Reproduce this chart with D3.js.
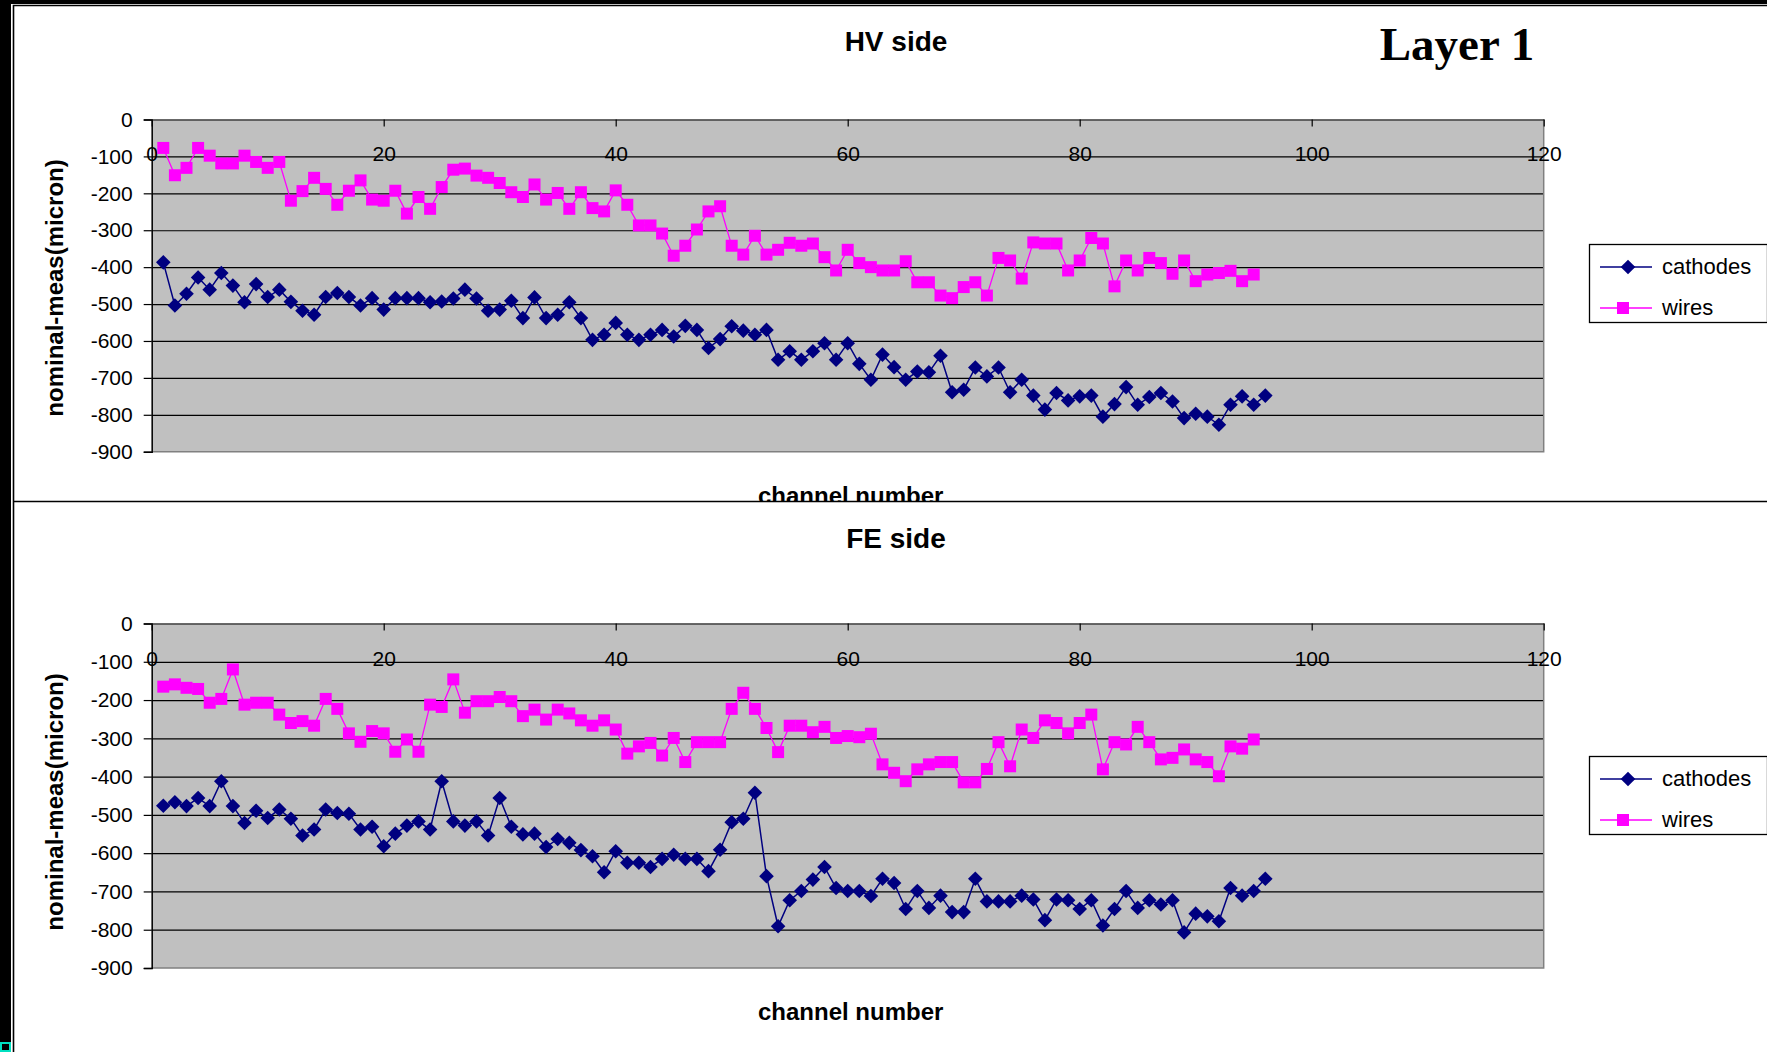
<!DOCTYPE html>
<html>
<head>
<meta charset="utf-8">
<script src="https://cdn.jsdelivr.net/npm/d3@7/dist/d3.min.js"></script>
<style>
  html, body { margin: 0; padding: 0; background: #000; }
  svg { display: block; }
  text { font-family: "Liberation Sans", Arial, sans-serif; fill: #000; }
</style>
</head>
<body>
<svg id="chart" width="1767" height="1052"></svg>
<script>
// ---- data ----
const channels = d3.range(1, 97);
const xTicks = [0, 20, 40, 60, 80, 100, 120];
const yTicks = [0, -100, -200, -300, -400, -500, -600, -700, -800, -900];
const seriesNames = ["cathodes", "wires"];

const hvCathodes = [-387, -504, -472, -428, -461, -416, -450, -495, -446, -481,
  -461, -494, -518, -529, -481, -470, -481, -504, -484, -515,
  -484, -484, -484, -495, -493, -485, -461, -485, -518, -515,
  -491, -538, -482, -538, -529, -495, -538, -597, -583, -551,
  -583, -597, -583, -570, -588, -559, -570, -619, -595, -560,
  -572, -583, -570, -651, -628, -651, -628, -606, -651, -606,
  -662, -705, -637, -671, -705, -683, -685, -640, -739, -732,
  -672, -696, -672, -739, -705, -748, -786, -741, -761, -750,
  -748, -805, -771, -725, -773, -752, -741, -764, -809, -797,
  -805, -827, -773, -750, -773, -748];

const hvWires = [-77, -151, -131, -77, -98, -119, -119, -98, -115, -131,
  -115, -220, -194, -158, -188, -231, -193, -165, -217, -220,
  -193, -255, -210, -242, -183, -136, -133, -152, -158, -172,
  -197, -210, -176, -217, -199, -242, -197, -240, -249, -192,
  -231, -287, -287, -309, -369, -342, -298, -249, -235, -342,
  -366, -315, -366, -353, -334, -342, -336, -373, -409, -353,
  -389, -400, -409, -409, -384, -441, -441, -477, -484, -454,
  -441, -477, -375, -382, -431, -333, -336, -336, -409, -382,
  -321, -336, -452, -382, -409, -375, -389, -418, -382, -438,
  -420, -416, -410, -438, -420];

const feCathodes = [-476, -467, -477, -456, -477, -412, -477, -521, -489, -508,
  -486, -510, -554, -538, -486, -495, -497, -538, -531, -582,
  -549, -528, -517, -538, -412, -517, -528, -517, -554, -456,
  -531, -551, -549, -584, -563, -573, -592, -608, -650, -595,
  -625, -625, -636, -615, -604, -615, -615, -647, -591, -519,
  -510, -442, -660, -791, -723, -699, -669, -636, -691, -699,
  -699, -712, -667, -678, -746, -699, -743, -711, -754, -754,
  -667, -726, -726, -726, -711, -721, -775, -721, -723, -746,
  -723, -789, -746, -699, -743, -723, -734, -723, -807, -758,
  -765, -778, -691, -711, -699, -667];

const feWires = [-165, -159, -168, -171, -207, -197, -120, -212, -207, -207,
  -238, -260, -255, -267, -197, -223, -287, -309, -281, -287,
  -335, -303, -335, -212, -218, -146, -233, -203, -203, -192,
  -203, -242, -225, -251, -225, -235, -253, -267, -253, -277,
  -340, -321, -312, -345, -299, -362, -310, -310, -310, -223,
  -181, -223, -273, -336, -267, -267, -284, -270, -299, -294,
  -297, -288, -368, -390, -412, -381, -368, -362, -362, -415,
  -415, -380, -310, -373, -277, -299, -253, -260, -287, -260,
  -238, -381, -310, -316, -270, -310, -355, -351, -329, -355,
  -362, -399, -321, -327, -303];

// ---- layout ----
const W = 1767, H = 1052;
const plotLeft = 151.7, plotRight = 1543.7;
const navy = "#000080", pink = "#FF00FF";

const diamond = "M0,-7.3L7.3,0L0,7.3L-7.3,0Z";
const square = "M-6,-6H6V6H-6Z";

const svg = d3.select("#chart");

// page background: black band at left / top, white sheet
svg.append("rect").attr("width", W).attr("height", H).attr("fill", "#000");
svg.append("rect").attr("x", 11).attr("y", 4).attr("width", W - 11).attr("height", H - 4).attr("fill", "#fff");
svg.append("rect").attr("x", 1).attr("y", 1043).attr("width", 9).attr("height", 8)
  .attr("fill", "none").attr("stroke", "#00e0c0").attr("stroke-width", 2);

// panel borders
svg.append("path")
  .attr("d", `M13.5,${H}V5.5H${W}M13.5,501.5H${W}`)
  .attr("fill", "none").attr("stroke", "#000").attr("stroke-width", 1.6);

svg.append("text")
  .attr("x", 1457).attr("y", 60)
  .attr("text-anchor", "middle")
  .style("font-family", "'Liberation Serif', 'Times New Roman', serif")
  .style("font-weight", "bold").style("font-size", "47px")
  .text("Layer 1");

const x = d3.scaleLinear().domain([0, 120]).range([plotLeft, plotRight]);

const panels = [
  { title: "HV side", cathodes: hvCathodes, wires: hvWires,
    top: 119.5, bottom: 451.7, titleY: 51, xTitleY: 495.7, yTitleY: 288,
    legendTop: 244, clip: [0, 0, W, 501] },
  { title: "FE side", cathodes: feCathodes, wires: feWires,
    top: 623.5, bottom: 968, titleY: 548, xTitleY: 1011.5, yTitleY: 802,
    legendTop: 756, clip: [0, 502, W, H - 502] }
];

panels.forEach((p, k) => {
  const clipId = "clip" + k;
  svg.append("clipPath").attr("id", clipId)
    .append("rect").attr("x", p.clip[0]).attr("y", p.clip[1])
    .attr("width", p.clip[2]).attr("height", p.clip[3]);

  const g = svg.append("g").attr("clip-path", `url(#${clipId})`);

  const y = d3.scaleLinear().domain([-900, 0]).range([p.bottom, p.top]);
  const step = y(-100) - y(0);

  // plot area
  g.append("rect")
    .attr("x", plotLeft).attr("y", y(0))
    .attr("width", plotRight - plotLeft).attr("height", y(-900) - y(0))
    .attr("fill", "#C0C0C0");

  // horizontal gridlines
  const grid = g.append("g")
    .attr("transform", `translate(${plotLeft},0)`)
    .call(d3.axisLeft(y).tickValues(yTicks.slice(1, -1)).tickSize(-(plotRight - plotLeft)).tickFormat(""));
  grid.select(".domain").remove();
  grid.selectAll(".tick line").attr("stroke", "#000").attr("stroke-width", 1.2);

  // right + bottom border of plot area
  g.append("path")
    .attr("d", `M${plotRight},${y(0)}V${y(-900)}H${plotLeft}`)
    .attr("fill", "none").attr("stroke", "#808080").attr("stroke-width", 1.5);

  // y axis
  const yAxis = g.append("g")
    .attr("transform", `translate(${plotLeft},0)`)
    .call(d3.axisLeft(y).tickValues(yTicks).tickSize(8).tickPadding(11).tickFormat(d => String(d)));
  yAxis.select(".domain").attr("stroke", "#000").attr("stroke-width", 1.5);
  yAxis.selectAll(".tick line").attr("stroke", "#000").attr("stroke-width", 1.2);
  yAxis.selectAll("text")
    .style("font-size", "21px").style("font-family", "'Liberation Sans', Arial, sans-serif")
    .attr("fill", "#000");

  // x axis sits at value 0 (top of the plot), labels drop below it
  const pad = step * 0.915 - 7 - 7.4;
  const xAxis = g.append("g")
    .attr("transform", `translate(0,${y(0)})`)
    .call(d3.axisBottom(x).tickValues(xTicks).tickSize(7).tickSizeOuter(0).tickPadding(pad));
  xAxis.select(".domain").attr("stroke", "#404040").attr("stroke-width", 1.5);
  xAxis.selectAll(".tick line").attr("stroke", "#000").attr("stroke-width", 1.2);
  xAxis.selectAll("text")
    .style("font-size", "21px").style("font-family", "'Liberation Sans', Arial, sans-serif")
    .attr("fill", "#000");

  // series
  const cath = p.cathodes.map((v, i) => [channels[i], v]);
  const wire = p.wires.map((v, i) => [channels[i], v]);
  const line = d3.line().x(d => x(d[0])).y(d => y(d[1]));

  g.append("path").datum(wire)
    .attr("d", line).attr("fill", "none").attr("stroke", pink).attr("stroke-width", 1.3);
  g.append("g").selectAll("path").data(wire).join("path")
    .attr("transform", d => `translate(${x(d[0])},${y(d[1])})`)
    .attr("d", square).attr("fill", pink);

  g.append("path").datum(cath)
    .attr("d", line).attr("fill", "none").attr("stroke", navy).attr("stroke-width", 1.5);
  g.append("g").selectAll("path").data(cath).join("path")
    .attr("transform", d => `translate(${x(d[0])},${y(d[1])})`)
    .attr("d", diamond).attr("fill", navy);

  // titles
  g.append("text")
    .attr("x", 896).attr("y", p.titleY)
    .attr("text-anchor", "middle")
    .style("font-weight", "bold").style("font-size", "28px")
    .text(p.title);

  g.append("text")
    .attr("x", (plotLeft + plotRight) / 2 + 3).attr("y", p.xTitleY)
    .attr("dy", "0.36em").attr("text-anchor", "middle")
    .style("font-weight", "bold").style("font-size", "24px")
    .text("channel number");

  g.append("text")
    .attr("transform", `translate(54,${p.yTitleY}) rotate(-90)`)
    .attr("dy", "0.36em").attr("text-anchor", "middle")
    .style("font-weight", "bold").style("font-size", "24px")
    .text("nominal-meas(micron)");

  // legend
  const lg = g.append("g").attr("transform", `translate(1589,${p.legendTop})`);
  lg.append("rect")
    .attr("x", 0.5).attr("y", 0.5).attr("width", 178).attr("height", 78)
    .attr("fill", "#fff").attr("stroke", "#000").attr("stroke-width", 1.3);
  const rows = lg.selectAll("g.row").data(seriesNames).join("g")
    .attr("class", "row")
    .attr("transform", (d, i) => `translate(0,${23 + i * 41})`);
  rows.append("line")
    .attr("x1", 11).attr("x2", 63)
    .attr("stroke", (d, i) => i === 0 ? navy : pink).attr("stroke-width", 1.5);
  rows.append("path")
    .attr("transform", (d, i) => `translate(${i === 0 ? 39 : 34},0)`)
    .attr("d", (d, i) => i === 0 ? diamond : square)
    .attr("fill", (d, i) => i === 0 ? navy : pink);
  rows.append("text")
    .attr("x", 73).attr("dy", "0.33em")
    .style("font-size", "22px")
    .text(d => d);
});
</script>
</body>
</html>
